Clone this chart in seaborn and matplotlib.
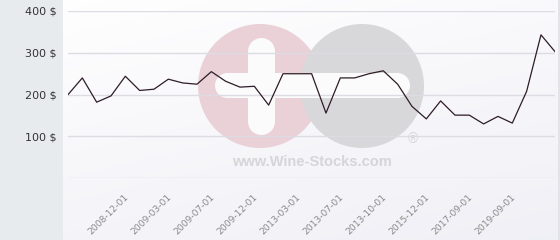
import matplotlib
matplotlib.use("Agg")
import matplotlib.pyplot as plt
import matplotlib.patches as mpatches
import matplotlib.transforms as mtransforms
import numpy as np
import pandas as pd
import seaborn as sns

# ---- data ----
prices = [200, 240, 182, 197, 244, 210, 213, 237, 228, 225,
          255, 232, 218, 220, 175, 250, 250, 250, 156, 240,
          240, 250, 257, 225, 172, 142, 185, 151, 151, 130,
          148, 132, 208, 343, 302]
tick_labels = ["2008-12-01", "2009-03-01", "2009-07-01", "2009-12-01",
               "2013-03-01", "2013-07-01", "2013-10-01", "2015-12-01",
               "2017-09-01", "2019-09-01"]
y_ticks = [100, 200, 300, 400]
y_tick_labels = ["100 $", "200 $", "300 $", "400 $"]

df = pd.DataFrame({"idx": np.arange(len(prices)), "price": prices})
tick_pos = list(range(4, len(prices), 3))[:len(tick_labels)]

sns.set_theme(style="white")
plt.rcParams["font.family"] = ["DejaVu Sans"]

W, H = 560, 240
fig = plt.figure(figsize=(W / 100, H / 100), dpi=100)

# ---- background / watermark layer (pixel coordinates) ----
bg = fig.add_axes([0, 0, 1, 1], zorder=0)
bg.set_xlim(0, W)
bg.set_ylim(H, 0)
bg.axis("off")
gx = np.linspace(0, 1, 200)
gy = np.linspace(0, 1, 100)
GX, GY = np.meshgrid(gx, gy)
t = np.clip(0.65 * GY + 0.35 * GX, 0, 1)
c0 = np.array([1.0, 1.0, 1.0])
c1 = np.array([0.94, 0.94, 0.965])
img = c0[None, None, :] * (1 - t[..., None]) + c1[None, None, :] * t[..., None]
bg.imshow(img, extent=[0, W, H, 0], aspect="auto", zorder=0)
bg.add_patch(mpatches.Rectangle((0, 0), 63, H, color="#e7ebee", zorder=1, lw=0))
bg.add_patch(mpatches.Rectangle((558, 0), 2, H, color="#e4e4e8", zorder=1, lw=0))
# logo circles
bg.add_patch(mpatches.Circle((260, 86), 62, color="#ead0d7", zorder=2, lw=0))
bg.add_patch(mpatches.Circle((362, 86), 62, color="#d8d8da", zorder=3, lw=0))
# white plus & minus bars (capsules)
bar_kw = dict(color="#fbfbfc", zorder=4, lw=0)
# vertical bar of plus
bg.add_patch(mpatches.Rectangle((248, 51.5), 27, 70, **bar_kw))
bg.add_patch(mpatches.Circle((261.5, 51.5), 13.5, **bar_kw))
bg.add_patch(mpatches.Circle((261.5, 121.5), 13.5, **bar_kw))
# horizontal bar
bg.add_patch(mpatches.Rectangle((227.5, 73), 170, 25, **bar_kw))
bg.add_patch(mpatches.Circle((227.5, 85.5), 12.5, **bar_kw))
bg.add_patch(mpatches.Circle((397.5, 85.5), 12.5, **bar_kw))
bg.text(312, 162, "www.Wine-Stocks.com", ha="center", va="center",
        fontsize=10.5, fontweight="bold", color="#d6d6d8",
        family=["Liberation Sans", "DejaVu Sans"], zorder=5)
bg.text(413, 139, "®", ha="center", va="center", fontsize=10,
        color="#d6d6d8", family=["Liberation Sans", "DejaVu Sans"], zorder=5)

# ---- main chart ----
x0, x1 = 68, 555.3
y_top, y_bot = 11, 178.3
ax = fig.add_axes([x0 / W, 1 - y_bot / H, (x1 - x0) / W, (y_bot - y_top) / H], zorder=2)
ax.set_facecolor("none")
sns.lineplot(data=df, x="idx", y="price", ax=ax, color="#2e1c26",
             linewidth=0.9, zorder=3)
ax.set_xlim(0, len(prices) - 1)
ax.set_ylim(0, 400)
for s in ax.spines.values():
    s.set_visible(False)
ax.set_xlabel("")
ax.set_ylabel("")
for v in [0] + y_ticks:
    ax.axhline(v, color="#dcdce2", lw=1.0, zorder=1)
ax.set_yticks(y_ticks)
ax.set_yticklabels(y_tick_labels, fontsize=8, color="#333333")
ax.tick_params(axis="y", length=0, pad=8)
ax.set_xticks(tick_pos)
ax.set_xticklabels(tick_labels, rotation=45, ha="right", va="top",
                   fontsize=6.6, color="#8a8a8a")
ax.tick_params(axis="x", length=0, pad=10.5)
offset = mtransforms.ScaledTranslation(5 / 100, 0, fig.dpi_scale_trans)
for lab in ax.get_xticklabels():
    lab.set_transform(lab.get_transform() + offset)
ax.grid(False)

fig.savefig("out.png", dpi=100)
